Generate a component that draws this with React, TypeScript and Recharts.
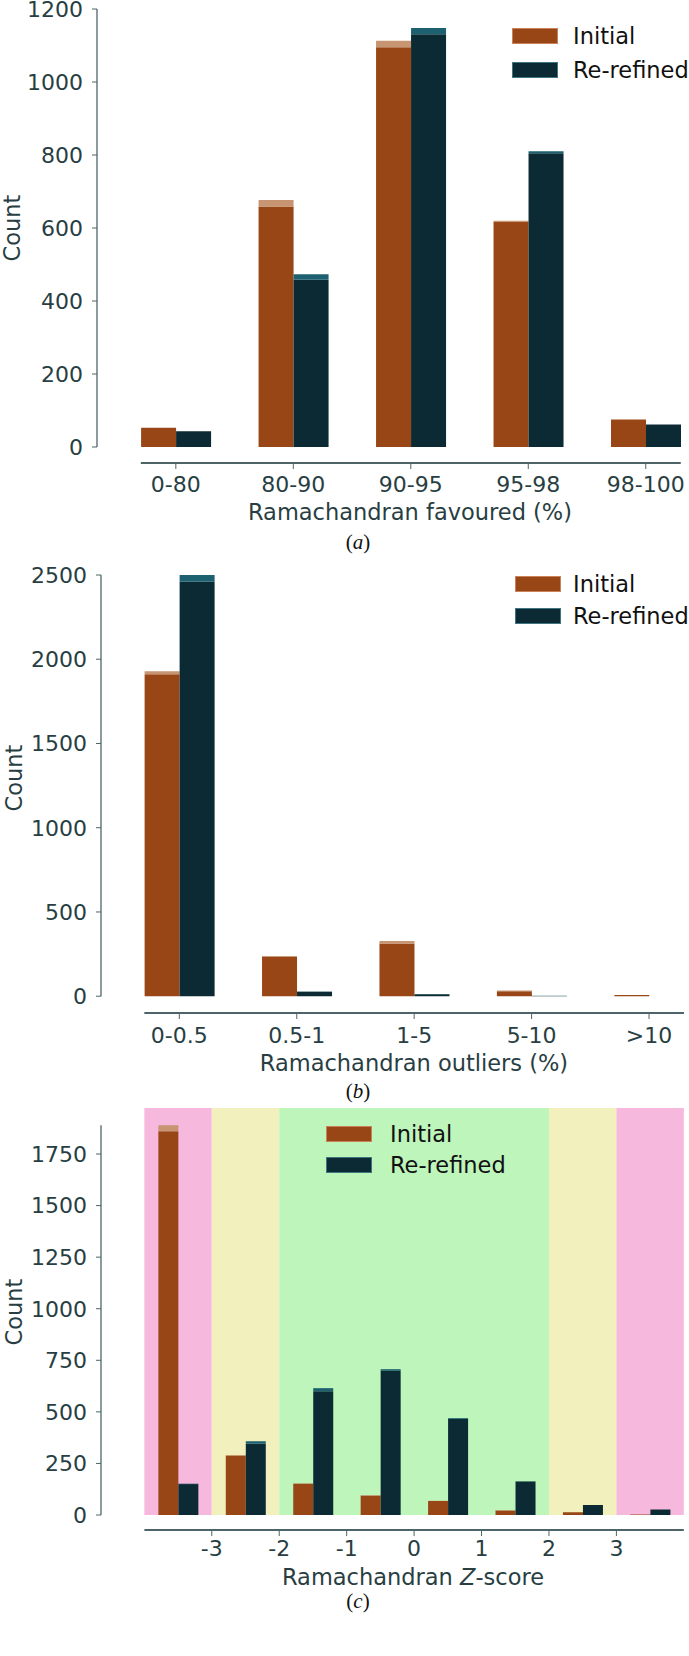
import React from 'react';
import { BarChart, Bar, XAxis, YAxis, ReferenceLine, ReferenceArea } from 'recharts';

// ---------- Data ----------
// (a) Ramachandran favoured (%)
const favCategories = ['0-80', '80-90', '90-95', '95-98', '98-100'];
const favInitialBase = [53, 659, 1095, 618, 75];
const favInitialTotal = [53, 677, 1113, 620, 77];
const favRefinedBase = [43, 458, 1131, 805, 62];
const favRefinedTotal = [43, 473, 1148, 810, 62];
const favYTicks = [0, 200, 400, 600, 800, 1000, 1200];

// (b) Ramachandran outliers (%)
const outCategories = ['0-0.5', '0.5-1', '1-5', '5-10', '>10'];
const outInitialBase = [1911, 236, 313, 30, 7];
const outInitialTotal = [1929, 238, 327, 34, 7];
const outRefinedBase = [2460, 27, 12, 2, 0];
const outRefinedTotal = [2500, 28, 13, 3, 0];
const outYTicks = [0, 500, 1000, 1500, 2000, 2500];

// (c) Ramachandran Z-score
const zBinCenters = [-3.5, -2.5, -1.5, -0.5, 0.5, 1.5, 2.5, 3.5];
const zInitialBase = [1860, 289, 152, 94, 68, 22, 13, 3];
const zInitialTotal = [1889, 290, 153, 97, 69, 24, 13, 3];
const zRefinedBase = [150, 345, 600, 700, 466, 163, 48, 27];
const zRefinedTotal = [152, 358, 615, 707, 470, 164, 48, 27];
const zXTicks = [-3, -2, -1, 0, 1, 2, 3];
const zYTicks = [0, 250, 500, 750, 1000, 1250, 1500, 1750];
const zBandEdges = [-4, -3, -2, 2, 3, 4];

// ---------- Styles ----------
const C_INIT = '#994617';
const C_INIT_CAP = '#c79572';
const C_REF = '#0c2a33';
const C_REF_CAP = '#1d6171';
const C_TEXT = '#283e42';
const C_AXIS = '#4d6569';
const BAND_COLORS = ['#f6b8dd', '#f2f0bc', '#bdf5bb', '#f2f0bc', '#f6b8dd'];
const FONT = "'DejaVu Sans', sans-serif";
const FS = 22.5;
const TICK_FS = 22;

const buildRows = (xs: number[], ib: number[], it: number[], rb: number[], rt: number[]) =>
  xs.map((x, i) => ({
    x,
    initBase: ib[i],
    initCap: it[i] - ib[i],
    refBase: rb[i],
    refCap: rt[i] - rb[i],
  }));

const favRows = buildRows(favCategories.map((_, i) => i), favInitialBase, favInitialTotal, favRefinedBase, favRefinedTotal);
const outRows = buildRows(outCategories.map((_, i) => i), outInitialBase, outInitialTotal, outRefinedBase, outRefinedTotal);
const zRows = buildRows(zBinCenters, zInitialBase, zInitialTotal, zRefinedBase, zRefinedTotal);

type PanelProps = {
  top: number;
  height: number;
  marginTop: number;
  marginRight: number;
  yWidth: number;
  data: any[];
  xDomain: [number, number];
  xTicks: number[];
  xFmt: (v: number) => string;
  yDomain: [number, number];
  yTicks: number[];
  barSize: number;
  xSpine: [number, number];
  ySpineTop: number;
  tickMargin: number;
  bands?: React.ReactNode;
};

function Panel(p: PanelProps) {
  const tickStyle = { fill: C_TEXT, fontSize: TICK_FS, fontFamily: FONT };
  return (
    <div style={{ position: 'absolute', left: 0, top: p.top }}>
      <BarChart
        width={689}
        height={p.height}
        data={p.data}
        margin={{ top: p.marginTop, right: p.marginRight, left: 0, bottom: 0 }}
        barGap={0}
        barSize={p.barSize}
      >
        {p.bands}
        <XAxis
          type="number"
          dataKey="x"
          domain={p.xDomain}
          allowDataOverflow
          ticks={p.xTicks}
          interval={0}
          tickFormatter={p.xFmt}
          axisLine={false}
          stroke={C_AXIS}
          tickSize={6}
          tickMargin={p.tickMargin}
          height={40}
          tick={tickStyle}
        />
        <YAxis
          type="number"
          domain={p.yDomain}
          allowDataOverflow
          ticks={p.yTicks}
          interval={0}
          width={p.yWidth}
          axisLine={false}
          stroke={C_AXIS}
          tickSize={5}
          tickMargin={9}
          tick={tickStyle}
        />
        <Bar dataKey="initBase" stackId="i" fill={C_INIT} isAnimationActive={false} />
        <Bar dataKey="initCap" stackId="i" fill={C_INIT_CAP} isAnimationActive={false} />
        <Bar dataKey="refBase" stackId="r" fill={C_REF} isAnimationActive={false} />
        <Bar dataKey="refCap" stackId="r" fill={C_REF_CAP} isAnimationActive={false} />
        <ReferenceLine
          segment={[{ x: p.xSpine[0], y: p.yDomain[0] }, { x: p.xSpine[1], y: p.yDomain[0] }]}
          stroke={C_AXIS}
          strokeWidth={2}
          ifOverflow="visible"
        />
        <ReferenceLine
          segment={[{ x: p.xDomain[0], y: 0 }, { x: p.xDomain[0], y: p.ySpineTop }]}
          stroke={C_AXIS}
          strokeWidth={1.3}
          ifOverflow="visible"
        />
      </BarChart>
    </div>
  );
}

function Legend({ left, top, gap, textLeft }: { left: number; top: number; gap: number; textLeft: number }) {
  const items = [
    { name: 'Initial', fill: C_INIT, border: '#c9835a' },
    { name: 'Re-refined', fill: C_REF, border: '#3f7580' },
  ];
  return (
    <>
      {items.map((it, i) => (
        <React.Fragment key={it.name}>
          <div
            style={{
              position: 'absolute',
              left,
              top: top + i * gap,
              width: 44,
              height: 14,
              background: it.fill,
              border: `1px solid ${it.border}`,
            }}
          />
          <div
            style={{
              position: 'absolute',
              left: textLeft,
              top: top + i * gap + 8,
              transform: 'translateY(-50%)',
              fontFamily: FONT,
              fontSize: FS,
              lineHeight: 1,
              color: '#111',
              whiteSpace: 'nowrap',
            }}
          >
            {it.name}
          </div>
        </React.Fragment>
      ))}
    </>
  );
}

function CenterText({ x, y, children, style }: { x: number; y: number; children: React.ReactNode; style?: React.CSSProperties }) {
  return (
    <div
      style={{
        position: 'absolute',
        left: x,
        top: y,
        transform: 'translate(-50%, -50%)',
        fontFamily: FONT,
        fontSize: FS,
        lineHeight: 1,
        color: C_TEXT,
        whiteSpace: 'nowrap',
        ...style,
      }}
    >
      {children}
    </div>
  );
}

function CountLabel({ x, y }: { x: number; y: number }) {
  return <CenterText x={x} y={y} style={{ transform: 'translate(-50%, -50%) rotate(-90deg)' }}>Count</CenterText>;
}

function Caption({ x, y, letter }: { x: number; y: number; letter: string }) {
  return (
    <CenterText x={x} y={y} style={{ fontFamily: "'Liberation Serif', serif", fontSize: 21, color: '#111' }}>
      (<i>{letter}</i>)
    </CenterText>
  );
}

export default function App() {
  const zBands = zBandEdges.slice(0, -1).map((e, i) => (
    <ReferenceArea
      key={i}
      x1={e}
      x2={zBandEdges[i + 1]}
      y1={0}
      y2={1973}
      fill={BAND_COLORS[i]}
      fillOpacity={1}
      stroke="none"
      ifOverflow="visible"
    />
  ));
  return (
    <div style={{ position: 'relative', width: 689, height: 1656, background: '#fff', overflow: 'hidden' }}>
      <style>{'body{margin:0;background:#fff}'}</style>

      {/* (a) */}
      <Panel
        top={0}
        height={503}
        marginTop={9}
        marginRight={8}
        yWidth={97}
        data={favRows}
        xDomain={[-0.671, 4.3]}
        xTicks={favCategories.map((_, i) => i)}
        xFmt={(v) => favCategories[v] ?? ''}
        yDomain={[-43.8, 1200]}
        yTicks={favYTicks}
        barSize={35}
        xSpine={[-0.298, 4.298]}
        ySpineTop={1200}
        tickMargin={7}
      />
      <CountLabel x={12} y={228} />
      <CenterText x={410} y={512}>Ramachandran favoured (%)</CenterText>
      <Caption x={358} y={542} letter="a" />
      <Legend left={512} top={28} gap={34} textLeft={573} />

      {/* (b) */}
      <Panel
        top={560}
        height={493}
        marginTop={15}
        marginRight={4.5}
        yWidth={101}
        data={outRows}
        xDomain={[-0.667, 4.302]}
        xTicks={outCategories.map((_, i) => i)}
        xFmt={(v) => outCategories[v] ?? ''}
        yDomain={[-99.6, 2500]}
        yTicks={outYTicks}
        barSize={35}
        xSpine={[-0.298, 4.298]}
        ySpineTop={2500}
        tickMargin={8}
      />
      <CountLabel x={14} y={778} />
      <CenterText x={414} y={1063}>Ramachandran outliers (%)</CenterText>
      <Caption x={358} y={1091} letter="b" />
      <Legend left={515} top={576} gap={32} textLeft={573} />

      {/* (c) */}
      <Panel
        top={1100}
        height={470}
        marginTop={8}
        marginRight={4.5}
        yWidth={101}
        data={zRows}
        xDomain={[-4.643, 4.01]}
        xTicks={zXTicks}
        xFmt={(v) => String(v)}
        yDomain={[-72.6, 1973]}
        yTicks={zYTicks}
        barSize={20}
        xSpine={[-4, 4]}
        ySpineTop={1889}
        tickMargin={4}
        bands={zBands}
      />
      <CountLabel x={14} y={1312} />
      <CenterText x={413} y={1577}>
        Ramachandran <i>Z</i>-score
      </CenterText>
      <Caption x={358} y={1601} letter="c" />
      <Legend left={326} top={1126} gap={31} textLeft={390} />
    </div>
  );
}
